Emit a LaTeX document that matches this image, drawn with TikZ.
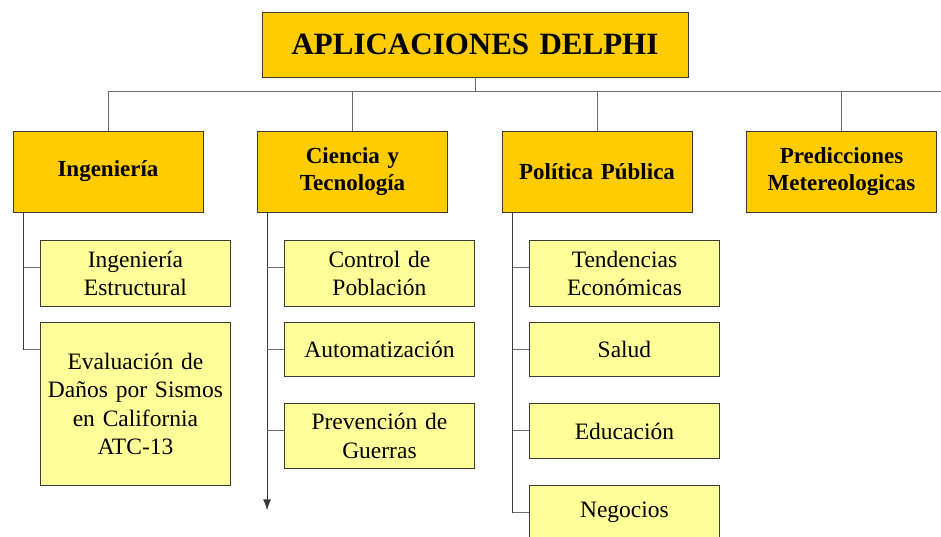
\documentclass[tikz,border=0pt]{standalone}
\usepackage{fontspec}
\setmainfont{Liberation Serif}
\usetikzlibrary{calc,arrows.meta}
\definecolor{gold}{HTML}{FFCC00}
\definecolor{pale}{HTML}{FFFF99}
\definecolor{edge}{HTML}{3A3A3A}
\definecolor{wire}{HTML}{6E6E6E}
\begin{document}
\begin{tikzpicture}[x=1pt,y=1pt,
  box/.style={draw=edge, line width=0.9pt, inner sep=0pt, align=center, minimum width=190pt, text width=186pt},
  mainbox/.style={box, fill=gold, minimum height=81pt, font=\bfseries\fontsize{23}{27.5}\selectfont},
  subbox/.style={box, fill=pale, anchor=north west, font=\fontsize{23.5}{28.5}\selectfont},
  bus/.style={draw=wire, line width=1pt},
  trunk/.style={draw=edge, line width=1.1pt}]
\useasboundingbox (0,0) rectangle (941,-536);
\clip (0,0) rectangle (941,-536);

% top
\node[box, fill=gold, minimum width=426pt, minimum height=65pt, text width=420pt,
      font=\bfseries\fontsize{31}{36}\selectfont] (top) at (475,-44.5) {APLICACIONES DELPHI};

% level 1
\node[mainbox] (ing) at (108,-171.5) {\raisebox{-2pt}{Ingeniería}};
\node[mainbox] (cie) at (352.5,-171.5) {\raisebox{-2pt}{Ciencia y}\\\raisebox{-2pt}{Tecnología}};
\node[mainbox] (pol) at (597,-171.5) {Política Pública};
\node[mainbox] (pre) at (841.5,-171.5) {Predicciones\\Metereologicas};

% bus
\coordinate (busR) at (941,-91);
\draw[bus] (top.south) -- (top.south |- busR);
\draw[bus] (ing.north) |- (busR);
\draw[bus] (cie.north) -- (cie.north |- busR);
\draw[bus] (pol.north) -- (pol.north |- busR);
\draw[bus] (pre.north) -- (pre.north |- busR);

% column 1
\node[subbox, minimum height=66pt] (ie) at (40,-240) {Ingeniería\\Estructural};
\node[subbox, minimum height=163pt] (ev) at (40,-322) {Evaluación de\\Daños por Sismos\\en California\\ATC-13};

% column 2
\node[subbox, minimum height=66pt] (cp) at (284,-240) {Control de\\Población};
\node[subbox, minimum height=54pt] (au) at (284,-322) {Automatización};
\node[subbox, minimum height=65pt] (pg) at (284,-403) {Prevención de\\Guerras};

% column 3
\node[subbox, minimum height=66pt] (te) at (529,-240) {Tendencias\\Económicas};
\node[subbox, minimum height=54pt] (sa) at (529,-322) {Salud};
\node[subbox, minimum height=55pt] (ed) at (529,-403) {Educación};
\node[subbox, minimum height=54pt] (ne) at (529,-485) {Negocios};

% trunks
\coordinate (t1) at ($(ing.south west)+(11,0)$);
\coordinate (t2) at ($(cie.south west)+(10,0)$);
\coordinate (t3) at ($(pol.south west)+(11,0)$);

\foreach \b in {ie,ev,cp,au,pg,te,sa,ed,ne}{
  \coordinate (\b b) at ($(\b.north west)+(0,-27.5)$);
}

% column 1 connectors
\draw[trunk] (t1) -- (t1 |- evb);
\draw[bus] (ieb) -- (ieb -| t1);
\draw[bus] (evb) -- (evb -| t1);

% column 2 connectors
\coordinate (a2) at ($(t2)+(0,-298)$);
\draw[trunk, -{Latex[length=11pt,width=8pt]}] (t2) -- (a2);
\draw[bus] (cpb) -- (cpb -| t2);
\draw[bus] (aub) -- (aub -| t2);
\draw[bus] (pgb) -- (pgb -| t2);

% column 3 connectors
\draw[trunk] (t3) -- (t3 |- neb);
\draw[bus] (teb) -- (teb -| t3);
\draw[bus] (sab) -- (sab -| t3);
\draw[bus] (edb) -- (edb -| t3);
\draw[bus] (neb) -- (neb -| t3);
\end{tikzpicture}
\end{document}
